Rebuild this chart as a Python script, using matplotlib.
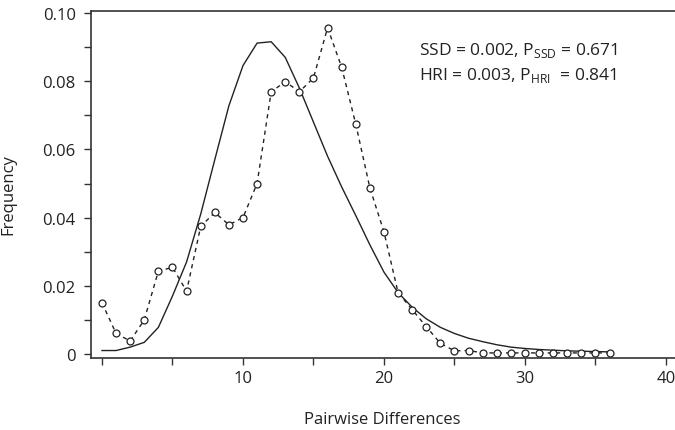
import matplotlib
matplotlib.use("Agg")
import matplotlib.pyplot as plt
import numpy as np

plt.rcParams["font.family"] = ["Open Sans", "DejaVu Sans"]
plt.rcParams["mathtext.fontset"] = "custom"
plt.rcParams["mathtext.rm"] = "Open Sans"

# pairwise differences (x) and frequencies
diffs = list(range(37))
observed = [0.015, 0.006, 0.0038, 0.010, 0.0243, 0.0254, 0.0184, 0.0374, 0.0415, 0.0379,
            0.040, 0.050, 0.0769, 0.0799, 0.0769, 0.081, 0.0957, 0.0841, 0.0674, 0.0487,
            0.0358, 0.018, 0.013, 0.008, 0.0031, 0.0009, 0.001, 0.0003, 0.0003, 0.0003,
            0.0003, 0.0003, 0.0003, 0.0003, 0.0003, 0.0003, 0.0003]
expected = [0.001, 0.001, 0.002, 0.0034, 0.0078, 0.017, 0.027, 0.041, 0.057, 0.0728,
            0.0846, 0.0912, 0.0916, 0.087, 0.078, 0.068, 0.058, 0.049, 0.0406, 0.032,
            0.024, 0.018, 0.0137, 0.0103, 0.0078, 0.006, 0.0046, 0.0036, 0.0027, 0.002,
            0.0016, 0.0013, 0.0011, 0.0009, 0.0008, 0.0007, 0.0006]

y_ticks = [0, 0.02, 0.04, 0.06, 0.08, 0.10]
y_labels = ["0", "0.02", "0.04", "0.06", "0.08", "0.10"]
x_ticks = [0, 10, 20, 30, 40]
x_labels = ["", "10", "20", "30", "40"]

fig = plt.figure(figsize=(6.75, 4.31), dpi=100)
ax = fig.add_axes([0.1348, 0.167, 0.8652, 0.805])

ax.plot(diffs, expected, color="#222222", lw=1.0)
ax.plot(diffs, observed, color="#222222", lw=1.0, linestyle=(0, (3, 3)),
        marker="o", markersize=5, markerfacecolor="white", markeredgecolor="#222222",
        markeredgewidth=0.9)

ax.set_xlim(-0.78, 40.64)
ax.set_ylim(-0.0012, 0.1006)
ax.set_xticks(x_ticks)
ax.set_xticklabels(x_labels)
ax.set_xticks([5, 15, 25, 35], minor=True)
ax.set_yticks(y_ticks)
ax.set_yticklabels(y_labels)
ax.set_yticks([0.01, 0.03, 0.05, 0.07, 0.09], minor=True)
ax.tick_params(which="both", direction="out", length=5, width=1, color="#333333",
               labelsize=12, labelcolor="#222222")
ax.tick_params(axis="y", pad=6)
ax.spines["right"].set_visible(False)
for s in ["left", "top", "bottom"]:
    ax.spines[s].set_color("#333333")
    ax.spines[s].set_linewidth(1.2)

ax.set_xlabel("Pairwise Differences", fontsize=12, color="#222222")
ax.set_ylabel("Frequency", fontsize=12, color="#222222")
ax.xaxis.set_label_coords(0.498, -0.153)
ax.yaxis.set_label_coords(-0.127, 0.473)

ax.text(22.5, 0.0894, r"SSD = 0.002, P$_{\mathregular{SSD}}$ = 0.671", fontsize=12.5,
        va="center", color="#222222")
ax.text(22.5, 0.0821, r"HRI = 0.003, P$_{\mathregular{HRI}}$  = 0.841", fontsize=12.5,
        va="center", color="#222222")

fig.savefig("out.png", dpi=100)
